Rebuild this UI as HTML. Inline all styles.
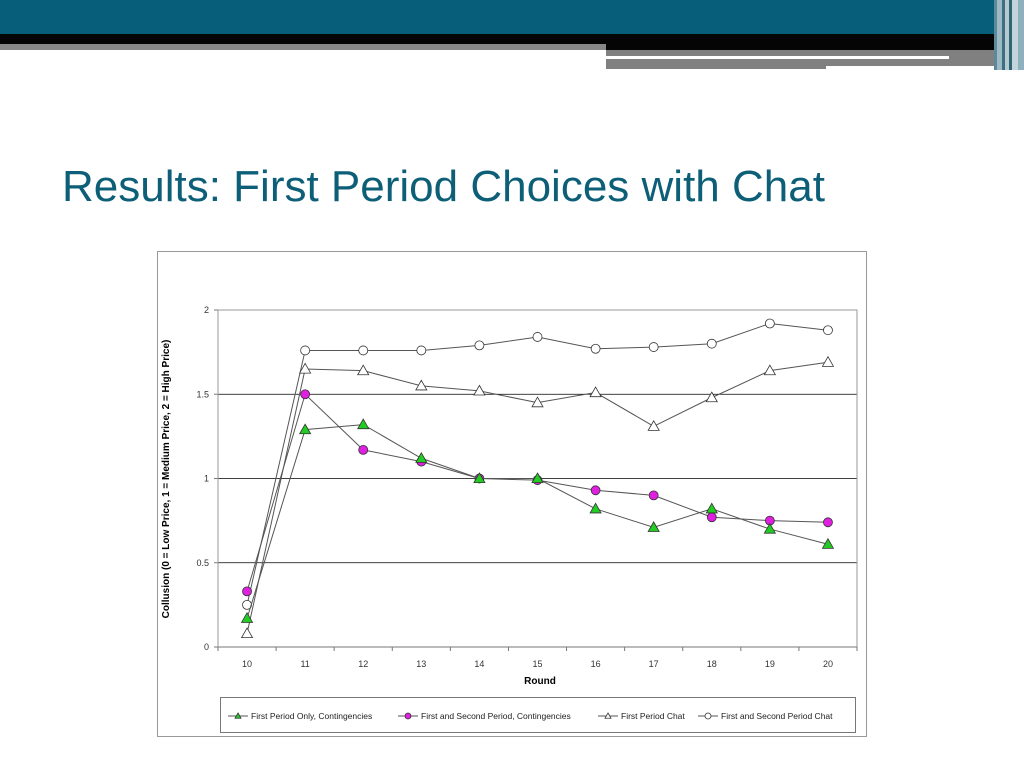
<!DOCTYPE html>
<html><head><meta charset="utf-8"><style>
body{margin:0;width:1024px;height:768px;background:#fff;position:relative;overflow:hidden;font-family:"Liberation Sans",sans-serif}
.a{position:absolute}
</style></head><body>
<div class="a" style="left:0;top:0;width:1024px;height:35px;background:#065e7a"></div>
<div class="a" style="left:0;top:34px;width:1024px;height:16px;background:#050505"></div>
<div class="a" style="left:0;top:44px;width:606px;height:6px;background:#888"></div>
<div class="a" style="left:606px;top:50px;width:400px;height:19px;background:#808080"></div>
<div class="a" style="left:606px;top:56px;width:343px;height:3px;background:#fff"></div>
<div class="a" style="left:826px;top:66px;width:180px;height:4px;background:#fff"></div>
<div class="a" style="left:994px;top:0;width:30px;height:70px;background:linear-gradient(90deg,#5b8a9b 0 3px,#9fb9c4 3px 8px,#3d6f80 8px 11px,#b5c9d1 11px 15px,#2f6376 15px 18px,#c5d4da 18px 24px,#8fb0bd 24px 30px)"></div>
<div class="a" style="left:62px;top:162px;font-size:44px;color:#0d5f78;white-space:nowrap">Results: First Period Choices with Chat</div>
<svg class="a" style="left:0;top:0" width="1024" height="768">
<rect x="157.5" y="251.5" width="709" height="485" fill="#fff" stroke="#999"/>
<g id="grid"></g><g id="series"></g>
<text x="540" y="684" font-size="10" font-weight="bold" text-anchor="middle" font-family="Liberation Sans">Round</text>
<text transform="translate(169,479) rotate(-90)" font-size="10" font-weight="bold" text-anchor="middle" font-family="Liberation Sans">Collusion (0 = Low Price, 1 = Medium Price, 2 = High Price)</text>
<rect x="220.5" y="697.5" width="635" height="35" fill="#fff" stroke="#777"/>
<g id="legend"></g>
</svg>
<script>
const categories=["10","11","12","13","14","15","16","17","18","19","20"];
const yTicks=[0,0.5,1,1.5,2];
const yTickLabels=["0","0.5","1","1.5","2"];
const greenTri=[0.17,1.29,1.32,1.12,1.0,1.0,0.82,0.71,0.82,0.70,0.61];
const magentaCirc=[0.33,1.50,1.17,1.10,1.0,0.99,0.93,0.90,0.77,0.75,0.74];
const whiteTri=[0.08,1.65,1.64,1.55,1.52,1.45,1.51,1.31,1.48,1.64,1.69];
const whiteCirc=[0.25,1.76,1.76,1.76,1.79,1.84,1.77,1.78,1.80,1.92,1.88];
const seriesNames=["First Period Only, Contingencies","First and Second Period, Contingencies","First Period Chat","First and Second Period Chat"];
const NS="http://www.w3.org/2000/svg";
const L=218,R=857,T=310,B=647;
const step=(R-L)/categories.length;
const xs=i=>L+step*(i+0.5);
const ys=v=>B-(v/2)*(B-T);
function mk(tag,at,parent){const e=document.createElementNS(NS,tag);for(const k in at)e.setAttribute(k,at[k]);parent.appendChild(e);return e;}
const grid=document.getElementById('grid');
yTicks.forEach((v,i)=>{
 const y=ys(v);
 if(v>0){const g=mk('line',{x1:L,x2:R,y1:y,y2:y,stroke:'#000','stroke-width':0.8},grid);
 
 }
 mk('line',{x1:L-4,x2:L,y1:y,y2:y,stroke:'#777'},grid);
 const t=mk('text',{x:L-9,y:y+3,'font-size':9,'text-anchor':'end',fill:'#333','font-family':'Liberation Sans'},grid);
 t.textContent=yTickLabels[i];
 
 
});
mk('rect',{x:L,y:T,width:R-L,height:B-T,fill:'none',stroke:'#999'},grid);
mk('line',{x1:L,x2:R,y1:B,y2:B,stroke:'#777'},grid);
for(let i=0;i<=categories.length;i++){const x=L+step*i;mk('line',{x1:x,x2:x,y1:B,y2:B+4,stroke:'#777'},grid);}
categories.forEach((c,i)=>{
 const t=mk('text',{x:xs(i),y:B+20,'font-size':9,'text-anchor':'middle',fill:'#333','font-family':'Liberation Sans'},grid);
 t.textContent=c;
 
 
});
function marker(p,type,fill,x,y,s){
 if(type==='tri') return mk('path',{d:`M${x} ${y-s}L${x+s} ${y+s*0.75}L${x-s} ${y+s*0.75}Z`,fill:fill,stroke:'#333','stroke-width':0.8},p);
 return mk('circle',{cx:x,cy:y,r:s,fill:fill,stroke:'#333','stroke-width':0.8},p);
}
const sers=[[whiteCirc,'circ','#fff'],[whiteTri,'tri','#fff'],[magentaCirc,'circ','#e020e0'],[greenTri,'tri','#22cc22']];
const sg=document.getElementById('series');
sers.forEach((s,k)=>{
 const g=mk('g',{},sg);
 
 
 mk('polyline',{points:s[0].map((v,i)=>xs(i)+','+ys(v)).join(' '),fill:'none',stroke:'#555','stroke-width':1},g);
 s[0].forEach((v,i)=>{const m=marker(g,s[1],s[2],xs(i),ys(v),s[1]==='tri'?5.5:4.5);
 
 });
});
const lg=document.getElementById('legend');
const lx=[228,398,598,698],ls=[[ 'tri','#22cc22'],['circ','#e020e0'],['tri','#fff'],['circ','#fff']];
seriesNames.forEach((n,i)=>{
 const g=mk('g',{},lg);
 
 
 mk('line',{x1:lx[i],x2:lx[i]+20,y1:716,y2:716,stroke:'#555'},g);
 marker(g,ls[i][0],ls[i][1],lx[i]+10,716,3);
 const t=mk('text',{x:lx[i]+23,y:719,'font-size':8.5,fill:'#222','font-family':'Liberation Sans'},g);
 t.textContent=n;
});
</script>
</body></html>
